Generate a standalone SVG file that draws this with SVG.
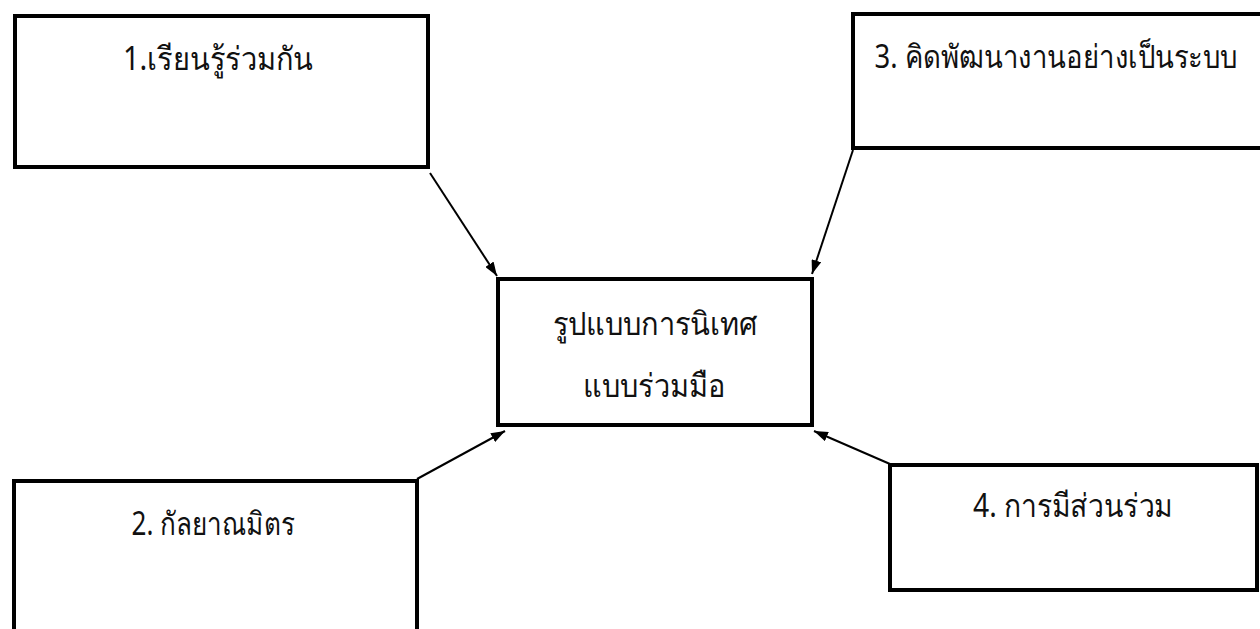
<svg xmlns="http://www.w3.org/2000/svg" width="1260" height="629" viewBox="0 0 1260 629">
<style>
.box{fill:#fff;stroke:#000;stroke-width:4}
.lbl{font-family:"Noto Sans","DejaVu Sans",sans-serif;font-size:32px;fill:#111;text-anchor:middle}
.conn{stroke:#000;stroke-width:2;fill:none;marker-end:url(#ah)}
</style>
<defs>
<marker id="ah" viewBox="0 0 14 10" refX="14" refY="5" markerWidth="14" markerHeight="10" markerUnits="userSpaceOnUse" orient="auto">
<path d="M0,0 L14,5 L0,10 z" fill="#000"/>
</marker>
</defs>
<rect width="1260" height="629" fill="#fff"/>
<g id="connectors">
<line class="conn" x1="430" y1="173" x2="497" y2="276"/>
<line class="conn" x1="853" y1="150" x2="812" y2="274"/>
<line class="conn" x1="417" y1="479" x2="505" y2="431"/>
<line class="conn" x1="890" y1="464" x2="814" y2="431"/>
</g>
<g id="n1">
<rect class="box" x="15" y="16" width="413" height="151"/>
<text class="lbl" x="218" y="70" textLength="190" lengthAdjust="spacingAndGlyphs">1.เรียนรู้ร่วมกัน</text>
</g>
<g id="n3">
<rect class="box" x="853" y="14" width="420" height="134"/>
<text class="lbl" x="1056" y="68" textLength="363" lengthAdjust="spacingAndGlyphs">3. คิดพัฒนางานอย่างเป็นระบบ</text>
</g>
<g id="center">
<rect class="box" x="498" y="279" width="314" height="146"/>
<text class="lbl" x="655" y="335" textLength="205" lengthAdjust="spacingAndGlyphs">รูปแบบการนิเทศ</text>
<text class="lbl" x="654" y="397" textLength="142" lengthAdjust="spacingAndGlyphs">แบบร่วมมือ</text>
</g>
<g id="n2">
<rect class="box" x="14" y="481" width="403" height="160"/>
<text class="lbl" x="213" y="535" textLength="163" lengthAdjust="spacingAndGlyphs">2. กัลยาณมิตร</text>
</g>
<g id="n4">
<rect class="box" x="890" y="465" width="367" height="125"/>
<text class="lbl" x="1073" y="517" textLength="200" lengthAdjust="spacingAndGlyphs">4. การมีส่วนร่วม</text>
</g>
</svg>
